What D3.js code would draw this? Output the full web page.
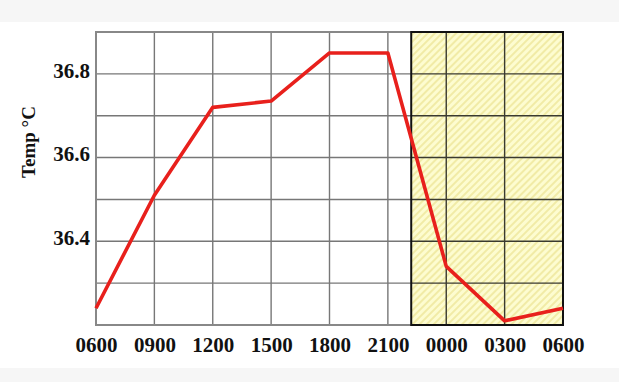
<!DOCTYPE html>
<html>
<head>
<meta charset="utf-8">
<script src="https://cdn.jsdelivr.net/npm/d3@7"></script>
<style>
  html, body { margin: 0; padding: 0; background: #ffffff; }
  svg { display: block; }
</style>
</head>
<body>
<script>
// ---- data ----
const categories = ["0600", "0900", "1200", "1500", "1800", "2100", "0000", "0300", "0600"];
const tempValues = [36.24, 36.51, 36.72, 36.735, 36.85, 36.85, 36.34, 36.21, 36.24];
const yTickLabels = [36.4, 36.6, 36.8];
const yGridValues = [36.3, 36.4, 36.5, 36.6, 36.7, 36.8];
const yDomain = [36.2, 36.9];
const shadeStart = 5.4;   // position (in category steps) where the shaded night period begins
const yTitle = "Temp \u00B0C";

// ---- layout ----
const W = 619, H = 382;
const margin = { left: 96, right: 56, top: 32, bottom: 57 };
const svg = d3.select("body").append("svg").attr("width", W).attr("height", H);

// background bands
svg.append("rect").attr("x", 0).attr("y", 0).attr("width", W).attr("height", H).attr("fill", "#f6f6f6");
svg.append("rect").attr("x", 0).attr("y", 22).attr("width", W).attr("height", 346).attr("fill", "#ffffff");

const x = d3.scaleLinear().domain([0, categories.length - 1]).range([margin.left, W - margin.right]);
const y = d3.scaleLinear().domain(yDomain).range([H - margin.bottom, margin.top]);

const x0 = x.range()[0], x1 = x.range()[1];
const yTop = y.range()[1], yBot = y.range()[0];
const xs = x(shadeStart);

// hatch pattern
const defs = svg.append("defs");
const pat = defs.append("pattern").attr("id", "hatch").attr("patternUnits", "userSpaceOnUse")
  .attr("width", 5).attr("height", 5).attr("patternTransform", "rotate(45)");
pat.append("rect").attr("width", 5).attr("height", 5).attr("fill", "#fdfcd0");
pat.append("line").attr("x1", 1).attr("y1", 0).attr("x2", 1).attr("y2", 5)
  .attr("stroke", "#efe79c").attr("stroke-width", 1.6);

// shaded region
svg.append("rect").attr("x", xs).attr("y", yTop).attr("width", x1 - xs).attr("height", yBot - yTop)
  .attr("fill", "url(#hatch)");

const gridIdx = d3.range(1, categories.length - 1);

// vertical gridlines
const g = svg.append("g");
gridIdx.forEach(i => {
  const xi = x(i);
  const inShade = xi > xs;
  g.append("line").attr("x1", xi).attr("x2", xi).attr("y1", yTop).attr("y2", yBot)
    .attr("stroke", inShade ? "#3a3a30" : "#777").attr("stroke-width", 1.4);
});
// horizontal gridlines (grey in the day part, dark in the shaded part)
yGridValues.forEach(v => {
  g.append("line").attr("x1", x0).attr("x2", xs).attr("y1", y(v)).attr("y2", y(v))
    .attr("stroke", "#777").attr("stroke-width", 1.4);
  g.append("line").attr("x1", xs).attr("x2", x1).attr("y1", y(v)).attr("y2", y(v))
    .attr("stroke", "#3a3a30").attr("stroke-width", 1.4);
});
// top border day part
g.append("line").attr("x1", x0).attr("x2", xs).attr("y1", yTop).attr("y2", yTop)
  .attr("stroke", "#888").attr("stroke-width", 2);
// left & bottom axes
g.append("line").attr("x1", x0).attr("x2", x0).attr("y1", yTop - 1).attr("y2", yBot)
  .attr("stroke", "#888").attr("stroke-width", 2);
g.append("line").attr("x1", x0 - 1).attr("x2", xs).attr("y1", yBot).attr("y2", yBot)
  .attr("stroke", "#888").attr("stroke-width", 2);
// shaded border
g.append("rect").attr("x", xs).attr("y", yTop).attr("width", x1 - xs).attr("height", yBot - yTop)
  .attr("fill", "none").attr("stroke", "#111").attr("stroke-width", 2);

// temperature line
const line = d3.line().x((d, i) => x(i)).y(d => y(d));
svg.append("path").datum(tempValues).attr("d", line)
  .attr("fill", "none").attr("stroke", "#e8201c").attr("stroke-width", 3.6)
  .attr("stroke-linejoin", "round");

const fontFam = "'Liberation Serif', 'Times New Roman', serif";

// x axis labels
const xAxis = d3.axisBottom(x).tickValues(d3.range(categories.length))
  .tickFormat(i => categories[i]).tickSize(0).tickPadding(0);
const gx = svg.append("g").attr("transform", `translate(0,${yBot})`).call(xAxis);
gx.select(".domain").remove();
gx.selectAll("text").attr("y", 27).attr("dy", null)
  .attr("font-family", fontFam)
  .attr("font-weight", "bold").attr("font-size", 21).attr("fill", "#111");

// y axis labels
const yAxis = d3.axisLeft(y).tickValues(yTickLabels).tickFormat(d3.format(".1f")).tickSize(0).tickPadding(6);
const gy = svg.append("g").attr("transform", `translate(${x0},0)`).call(yAxis);
gy.select(".domain").remove();
gy.selectAll("text").attr("dy", "0.15em")
  .attr("font-family", fontFam)
  .attr("font-weight", "bold").attr("font-size", 21).attr("fill", "#111");

// y title
svg.append("text").attr("transform", `translate(35,142) rotate(-90)`)
  .attr("text-anchor", "middle")
  .attr("font-family", fontFam)
  .attr("font-weight", "bold").attr("font-size", 19).attr("fill", "#111")
  .text(yTitle);
</script>
</body>
</html>
